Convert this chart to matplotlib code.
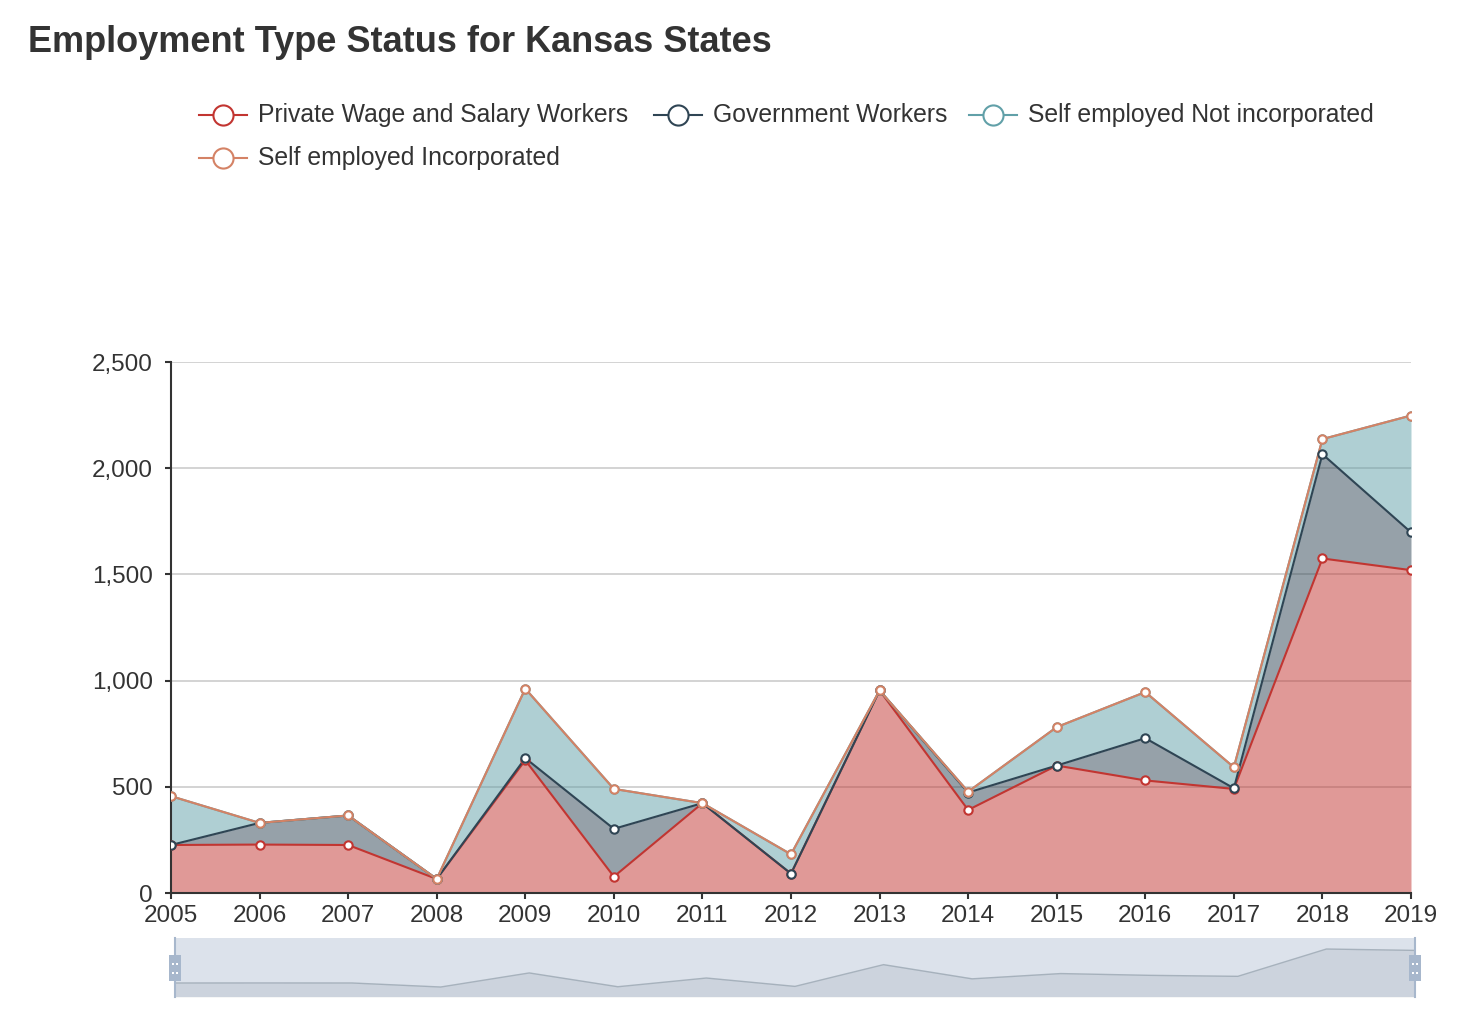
import numpy as np
import matplotlib.pyplot as plt
from matplotlib.lines import Line2D
from matplotlib.patches import Rectangle
from matplotlib.ticker import FuncFormatter

plt.rcParams['font.family'] = ['Liberation Sans', 'DejaVu Sans']

# datos
years = [2005, 2006, 2007, 2008, 2009, 2010, 2011, 2012, 2013, 2014, 2015, 2016, 2017, 2018, 2019]
private = [226, 228, 226, 66, 625, 77, 423, 91, 954, 391, 600, 530, 490, 1575, 1520]
government = [0, 102, 139, 0, 10, 225, 0, 0, 0, 82, 0, 199, 3, 491, 178]
self_not_inc = [230, 0, 0, 0, 327, 188, 0, 91, 0, 4, 181, 217, 99, 71, 550]
self_inc = [0, 0, 0, 0, 0, 0, 0, 0, 0, 0, 0, 0, 0, 0, 0]

names = ['Private Wage and Salary Workers', 'Government Workers',
         'Self employed Not incorporated', 'Self employed Incorporated']
colors = ['#c23531', '#2f4554', '#61a0a8', '#d48265']
series = [private, government, self_not_inc, self_inc]

W, H = 1482, 1032
fig = plt.figure(figsize=(W / 100, H / 100), dpi=100)


def fx(px):
    return px / W


def fy(py):
    return 1 - py / H


ax = fig.add_axes([fx(171), fy(893), fx(1411) - fx(171), fy(362) - fy(893)])

x = np.array(years)
base = np.zeros(len(years))
tops = []
for vals, col in zip(series, colors):
    top = base + np.array(vals)
    ax.fill_between(x, base, top, color=col, alpha=0.5, linewidth=0, zorder=2)
    tops.append(top)
    base = top
# lineas encima de las areas
for top, col in zip(tops, colors):
    ax.plot(x, top, color=col, linewidth=1.5, zorder=3)
    ax.plot(x, top, linestyle='none', marker='o', markersize=6,
            markerfacecolor='white', markeredgecolor=col, markeredgewidth=1.5, zorder=4)

ax.set_xlim(2005, 2019)
ax.set_ylim(0, 2500)
ax.set_xticks(years)
ax.set_yticks([0, 500, 1000, 1500, 2000, 2500])
ax.yaxis.set_major_formatter(FuncFormatter(lambda v, p: '{:,.0f}'.format(v)))
ax.grid(axis='y', color='#cccccc', linewidth=1.2, zorder=1)
ax.set_axisbelow(True)
for s in ['top', 'right']:
    ax.spines[s].set_visible(False)
for s in ['left', 'bottom']:
    ax.spines[s].set_color('#333333')
    ax.spines[s].set_linewidth(1.5)
ax.tick_params(colors='#333333', labelsize=17.5, length=4, width=1.5)
ax.tick_params(axis='y', pad=9)
ax.tick_params(axis='x', pad=5)

# titulo
fig.text(fx(28), fy(42), 'Employment Type Status for Kansas States', fontsize=26,
         fontweight='bold', color='#333333', va='center', ha='left')

# leyenda manual
legend_pos = [(199, 115), (654, 115), (969, 115), (199, 158)]
for (lx, ly), name, col in zip(legend_pos, names, colors):
    fig.add_artist(Line2D([fx(lx), fx(lx + 48)], [fy(ly), fy(ly)], color=col, linewidth=1.5,
                          transform=fig.transFigure))
    fig.add_artist(Line2D([fx(lx + 24)], [fy(ly)], marker='o', markersize=14.5,
                          markerfacecolor='white', markeredgecolor=col, markeredgewidth=1.5,
                          transform=fig.transFigure))
    fig.text(fx(lx + 59), fy(ly), name, fontsize=17.8, color='#333333', va='center', ha='left')

# barra de zoom inferior
zax = fig.add_axes([fx(175), fy(997), fx(1415) - fx(175), fy(938) - fy(997)])
zax.set_xlim(2005, 2019)
zax.set_ylim(-331, 2012)
zax.add_patch(Rectangle((0, 0), 1, 1, transform=zax.transAxes, facecolor='#dce2eb',
                        edgecolor='none', zorder=0))
zax.fill_between(x, -331, private, color='#2f4554', alpha=0.09, linewidth=0, zorder=1)
zax.plot(x, private, color='#2f4554', alpha=0.3, linewidth=1, zorder=2)
for s in zax.spines.values():
    s.set_visible(False)
zax.set_xticks([])
zax.set_yticks([])
for hx in [175, 1415]:
    fig.add_artist(Line2D([fx(hx), fx(hx)], [fy(938), fy(997)], color='#a7b7cc', linewidth=1.5,
                          transform=fig.transFigure))
    fig.add_artist(Rectangle((fx(hx - 6), fy(981)), fx(12), fy(955) - fy(981),
                             facecolor='#a7b7cc', edgecolor='none', transform=fig.transFigure))
    for my in [963, 972]:
        fig.add_artist(Rectangle((fx(hx - 3), fy(my + 1.5)), fx(6), fy(my) - fy(my + 1.5),
                                 facecolor='white', edgecolor='none', transform=fig.transFigure))

fig.savefig('out.png', dpi=100, facecolor='white')
